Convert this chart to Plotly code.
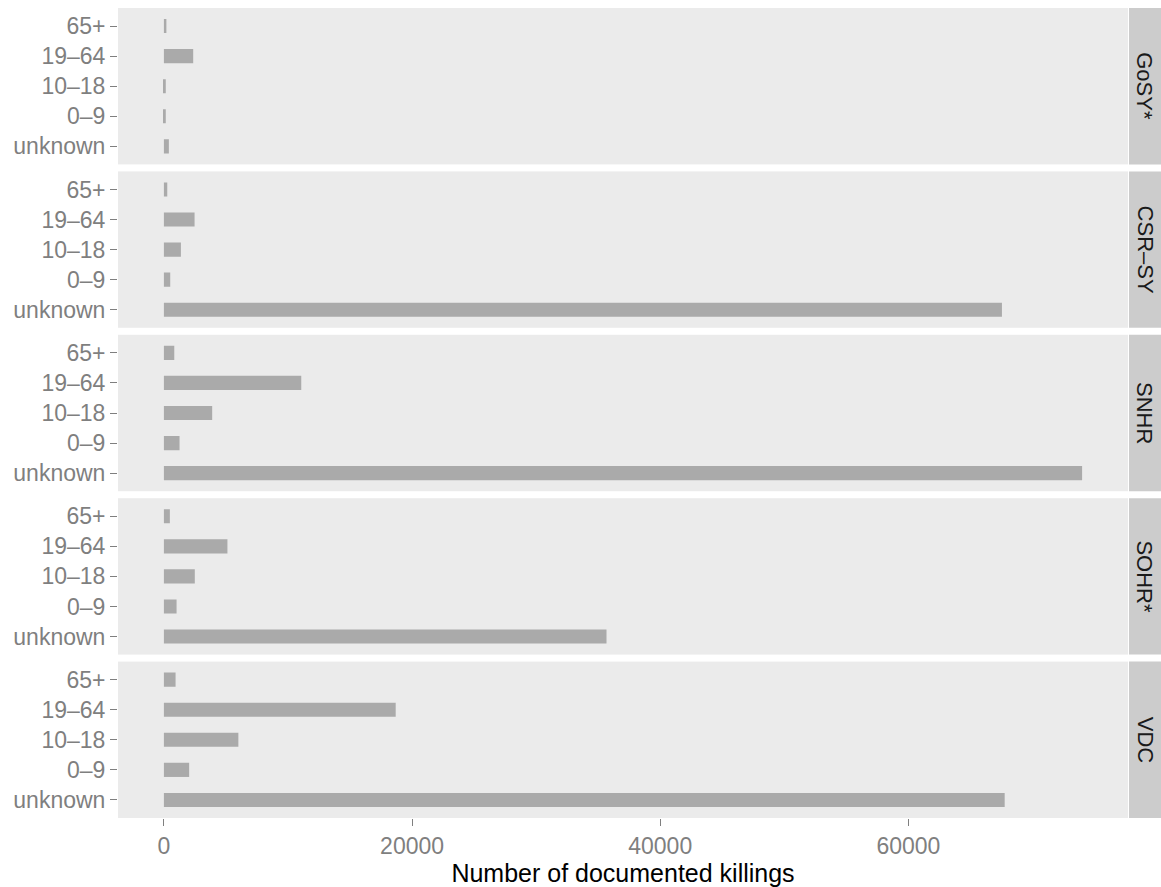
import plotly.graph_objects as go
from plotly.subplots import make_subplots

# ---- data ----
sources = ["GoSY*", "CSR–SY", "SNHR", "SOHR*", "VDC"]
age_groups = ["unknown", "0–9", "10–18", "19–64", "65+"]

gosy = [400, 150, 150, 2360, 200]
csr_sy = [67540, 510, 1370, 2470, 270]
snhr = [74000, 1260, 3890, 11070, 835]
sohr = [35670, 1020, 2490, 5120, 480]
vdc = [67760, 2035, 6000, 18680, 940]

series = [gosy, csr_sy, snhr, sohr, vdc]

x_ticks = [0, 20000, 40000, 60000]
x_ticklabels = ["0", "20000", "40000", "60000"]
x_title = "Number of documented killings"

# ---- layout constants ----
W, H = 1161, 887
L, R, T, B = 118, 33, 8, 69
plot_h = H - T - B
gap = 7.0

fig = make_subplots(rows=len(sources), cols=1, shared_xaxes=True,
                    vertical_spacing=gap / plot_h)

bar_color = "#AAAAAA"
tick_color = "#7F7F7F"
font_family = "Liberation Sans, Arial, sans-serif"

for i, (src, vals) in enumerate(zip(sources, series)):
    fig.add_trace(go.Bar(
        x=vals, y=age_groups, orientation="h",
        marker=dict(color=bar_color, line=dict(width=0)),
        width=0.47, showlegend=False, hoverinfo="x+y",
    ), row=i + 1, col=1)

xmax = max(max(s) for s in series)
xr = [-0.05 * xmax, 1.05 * xmax]

fig.update_xaxes(range=xr, showgrid=False, zeroline=False,
                 showline=False, tickvals=x_ticks, ticktext=x_ticklabels,
                 ticks="outside", ticklen=7, tickwidth=1.2, tickcolor=tick_color,
                 tickfont=dict(family=font_family, size=23, color=tick_color))
for r in range(1, len(sources)):
    fig.update_xaxes(showticklabels=False, ticks="", row=r, col=1)
fig.update_xaxes(title=dict(text=x_title, standoff=0,
                            font=dict(family=font_family, size=25, color="#000000")),
                 row=len(sources), col=1)

fig.update_yaxes(type="category", categoryorder="array", categoryarray=age_groups,
                 range=[-0.6, 4.6], showgrid=False, zeroline=False, showline=False,
                 ticks="outside", ticklen=7, tickwidth=1.2, tickcolor=tick_color,
                 tickfont=dict(family=font_family, size=23, color=tick_color))

# facet strips on the right
plot_w = W - L - R
sx0 = 1 + 1.0 / plot_w
sx1 = (W - L) / plot_w
for i, src in enumerate(sources):
    yaxis_key = "yaxis" if i == 0 else f"yaxis{i + 1}"
    dom = fig.layout[yaxis_key].domain
    fig.add_shape(type="rect", xref="paper", yref="paper",
                  x0=sx0, x1=sx1, y0=dom[0], y1=dom[1],
                  fillcolor="#CCCCCC", line=dict(width=0), layer="below")
    fig.add_annotation(x=(sx0 + sx1) / 2, y=(dom[0] + dom[1]) / 2,
                       xref="paper", yref="paper", text=src, showarrow=False,
                       textangle=90, xanchor="center", yanchor="middle",
                       font=dict(family=font_family, size=22, color="#1A1A1A"))

fig.update_layout(
    width=W, height=H,
    margin=dict(l=L, r=R, t=T, b=B, pad=0),
    paper_bgcolor="white", plot_bgcolor="#EBEBEB",
    font=dict(family=font_family),
)

fig.write_html(
    "out.html",
    config={"displayModeBar": False},
    post_script="document.body.style.margin='0';document.body.style.overflow='hidden';",
)
